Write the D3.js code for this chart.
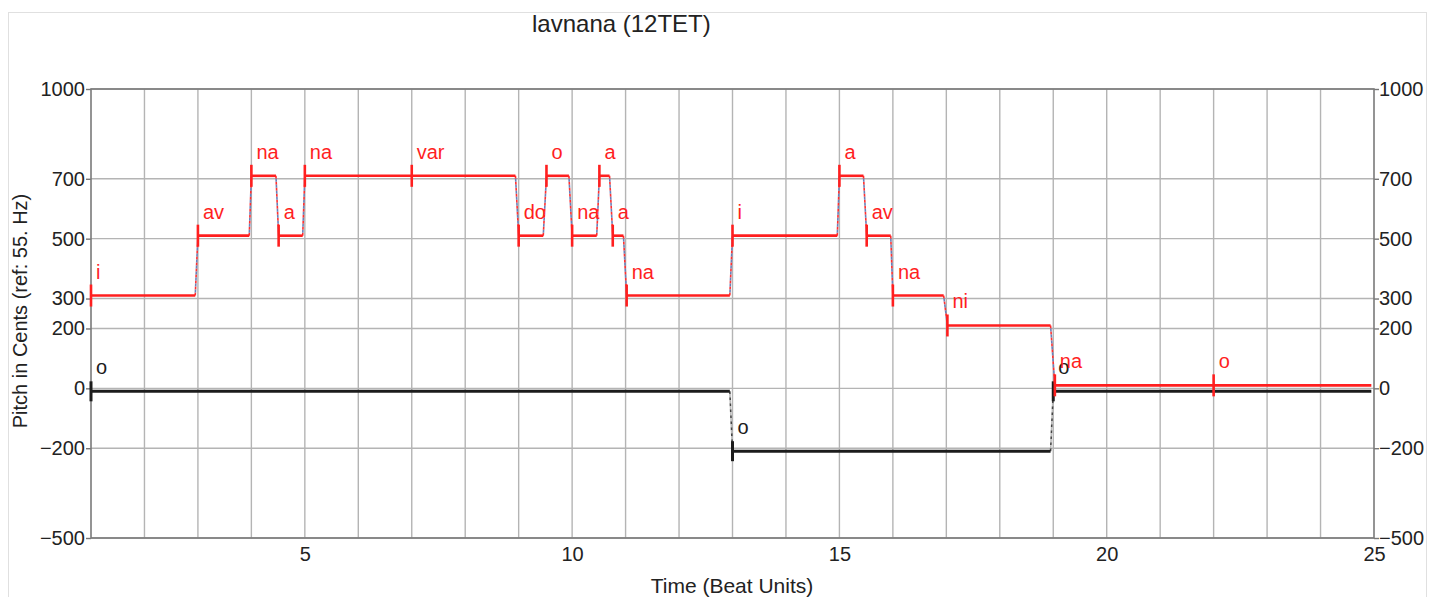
<!DOCTYPE html>
<html>
<head>
<meta charset="utf-8">
<script src="https://cdn.jsdelivr.net/npm/d3@7"></script>
<style>
  html, body { margin: 0; padding: 0; background: #fff; }
  svg { display: block; font-family: "Liberation Sans", Arial, Helvetica, sans-serif; }
</style>
</head>
<body>
<svg id="chart" width="1430" height="597"></svg>
<script>
// ---- data ----
const titleText = "lavnana (12TET)";
const xLabelText = "Time (Beat Units)";
const yLabelText = "Pitch in Cents (ref: 55. Hz)";

const yTickValues = [1000, 700, 500, 300, 200, 0, -200, -500];
const xTickLabels = [5, 10, 15, 20, 25];
const xGridValues = [2,3,4,5,6,7,8,9,10,11,12,13,14,15,16,17,18,19,20,21,22,23,24];

// upper voice (red)
const redLabels  = ["i","av","na","a","na","var","do","o","na","a","a","na","i","a","av","na","ni","na","o"];
const redStarts  = [1.0, 3.0, 4.0, 4.51, 5.0, 7.0, 9.0, 9.52, 10.0, 10.51, 10.76, 11.02, 13.0, 15.0, 15.51, 16.0, 17.02, 19.03, 22.0];
const redEnds    = [2.95, 3.96, 4.46, 4.96, 7.0, 8.94, 9.46, 9.94, 10.46, 10.7, 10.96, 12.95, 14.96, 15.45, 15.96, 16.95, 18.95, 22.0, 24.95];
const redPitches = [310, 510, 710, 510, 710, 710, 510, 710, 510, 710, 510, 310, 510, 710, 510, 310, 210, 10, 10];

// lower voice (black)
const blackLabels  = ["o","o","o"];
const blackStarts  = [1.0, 13.0, 19.0];
const blackEnds    = [12.95, 18.95, 24.95];
const blackPitches = [-10, -210, -10];

// ---- layout ----
const svg = d3.select("#chart");
const L = 91, R = 1374, T = 89, B = 538;
const x = d3.scaleLinear().domain([1, 25]).range([L, R]);
const y = d3.scaleLinear().domain([-500, 1000]).range([B, T]);

// outer light border
svg.append("rect").attr("x", 8.5).attr("y", 12.5).attr("width", 1418).attr("height", 600)
  .attr("fill", "none").attr("stroke", "#e0e0e0").attr("stroke-width", 1);

// grid
const grid = svg.append("g").attr("stroke", "#b4b4b4").attr("stroke-width", 1.4);
grid.selectAll("line.v").data(xGridValues).join("line").attr("class", "v")
  .attr("x1", d => x(d)).attr("x2", d => x(d)).attr("y1", T).attr("y2", B);
grid.selectAll("line.h").data(yTickValues).join("line").attr("class", "h")
  .attr("x1", L).attr("x2", R).attr("y1", d => y(d)).attr("y2", d => y(d));

// axes
const fs = 20;
const fmt = d => d < 0 ? "\u2212" + Math.abs(d) : d;
const leftAxis = svg.append("g").attr("transform", `translate(${L},0)`)
  .call(d3.axisLeft(y).tickValues(yTickValues).tickSize(5).tickPadding(1).tickFormat(fmt));
const rightAxis = svg.append("g").attr("transform", `translate(${R},0)`)
  .call(d3.axisRight(y).tickValues(yTickValues).tickSize(5).tickPadding(0).tickFormat(fmt));
const bottomAxis = svg.append("g").attr("transform", `translate(0,${B})`)
  .call(d3.axisBottom(x).tickValues(xTickLabels).tickSize(0).tickPadding(9));
[leftAxis, rightAxis, bottomAxis].forEach(g => {
  g.select(".domain").remove();
  g.selectAll("line").attr("stroke", "#777").attr("stroke-width", 1.4);
  g.selectAll("text").attr("font-size", fs).attr("fill", "#222").attr("font-family", "Liberation Sans, Arial, sans-serif");
});

// frame
svg.append("rect").attr("x", L).attr("y", T).attr("width", R - L).attr("height", B - T)
  .attr("fill", "none").attr("stroke", "#7a7a7a").attr("stroke-width", 1.6);

// titles
svg.append("text").attr("x", 532).attr("y", 32).attr("font-size", 24).attr("fill", "#222").text(titleText);
svg.append("text").attr("x", 732).attr("y", 593).attr("text-anchor", "middle").attr("font-size", 21).attr("fill", "#222").text(xLabelText);
svg.append("text").attr("transform", "translate(27,311) rotate(-90)").attr("text-anchor", "middle")
  .attr("font-size", 20).attr("fill", "#222").text(yLabelText);

// voices
function drawVoice(labels, starts, ends, pitches, color, width, halfTick, transA, transB) {
  const g = svg.append("g");
  const segs = labels.map((l, i) => ({ l, s: starts[i], e: ends[i], p: pitches[i] }));
  for (let i = 0; i < segs.length - 1; i++) {
    const a = segs[i], b = segs[i + 1];
    if (a.p === b.p) continue;
    const x1 = x(a.e), y1 = y(a.p), x2 = x(b.s), y2 = y(b.p);
    g.append("line").attr("x1", x1).attr("y1", y1).attr("x2", x2).attr("y2", y2)
      .attr("stroke", transA).attr("stroke-width", 1.6).attr("stroke-dasharray", "3,3");
    g.append("line").attr("x1", x1).attr("y1", y1).attr("x2", x2).attr("y2", y2)
      .attr("stroke", transB).attr("stroke-width", 1.6).attr("stroke-dasharray", "3,3").attr("stroke-dashoffset", 3);
  }
  g.selectAll("line.seg").data(segs).join("line").attr("class", "seg")
    .attr("x1", d => x(d.s)).attr("x2", d => x(d.e)).attr("y1", d => y(d.p)).attr("y2", d => y(d.p))
    .attr("stroke", color).attr("stroke-width", width);
  g.selectAll("line.tick").data(segs).join("line").attr("class", "tick")
    .attr("x1", d => x(d.s)).attr("x2", d => x(d.s)).attr("y1", d => y(d.p) - halfTick).attr("y2", d => y(d.p) + halfTick)
    .attr("stroke", color).attr("stroke-width", width);
  g.selectAll("text").data(segs).join("text")
    .attr("x", d => x(d.s) + 5).attr("y", d => y(d.p) - 17)
    .attr("font-size", 20).attr("fill", color).text(d => d.l);
}

drawVoice(blackLabels, blackStarts, blackEnds, blackPitches, "#1c1c1c", 3, 10, "#444", "#bbb");
drawVoice(redLabels, redStarts, redEnds, redPitches, "#ff1f1f", 2.6, 11, "#ff3030", "#6a7fb8");
</script>
</body>
</html>
